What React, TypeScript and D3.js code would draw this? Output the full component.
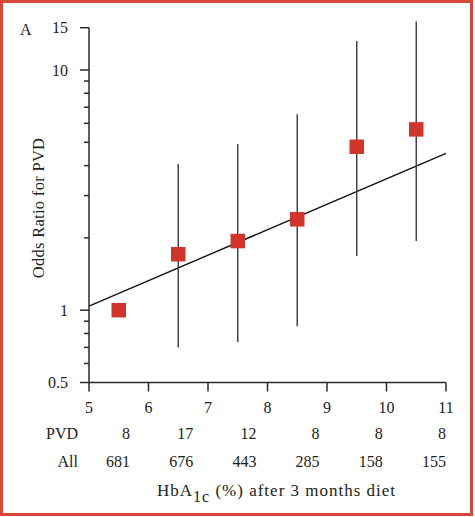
import React from "react";
import * as d3 from "d3";

const hba1c = [5.5, 6.5, 7.5, 8.5, 9.5, 10.5];
const oddsRatio = [1.0, 1.71, 1.94, 2.39, 4.79, 5.66];
const ciLow = [null, 0.70, 0.738, 0.858, 1.68, 1.94];
const ciHigh = [null, 4.06, 4.92, 6.54, 13.2, 15.9];
const trendX = [5, 11];
const trendY = [1.04, 4.5];
const pvdCounts = ["8", "17", "12", "8", "8", "8"];
const allCounts = ["681", "676", "443", "285", "158", "155"];
const xTicks = [5, 6, 7, 8, 9, 10, 11];
const yMajorTicks = [0.5, 1, 10, 15];
const yMinorTicks = [0.6, 0.7, 0.8, 0.9, 2, 3, 4, 5, 6, 7, 8, 9];

const W = 475;
const H = 517;
const FONT = "'Liberation Serif', 'DejaVu Serif', serif";

export default function App() {
  const x = d3.scaleLinear().domain([5, 11]).range([89, 446]);
  const y = d3.scaleLog().domain([0.5, 15]).range([382.5, 27.7]);
  const col = d3.scaleLinear().domain([0, 5]).range([130, 446]);
  const line = d3
    .line<number>()
    .x((_, i) => x(trendX[i]))
    .y((d) => y(d));
  const red = "#d0352b";
  const axisColor = "#2a2a2a";
  const sq = 14.5;
  return (
    <svg
      width={W}
      height={H}
      style={{ position: "absolute", left: 0, top: 0, background: "#fff" }}
      fontFamily={FONT}
    >
      <rect x={1.5} y={1.5} width={470} height={513} fill="#fff" stroke="#d9473b" strokeWidth={3} />
      <text x={20} y={35} fontSize={16} fill="#222">A</text>

      {/* y axis */}
      <line x1={89} x2={89} y1={y(15)} y2={y(0.5)} stroke={axisColor} strokeWidth={1.5} />
      {yMajorTicks.map((t) => (
        <g key={"ym" + t}>
          <line x1={80} x2={89} y1={y(t)} y2={y(t)} stroke={axisColor} strokeWidth={1.5} />
          <text x={68} y={y(t)} dy="0.35em" textAnchor="end" fontSize={16} fill="#222">
            {t}
          </text>
        </g>
      ))}
      {yMinorTicks.map((t) => (
        <line key={"yn" + t} x1={84} x2={89} y1={y(t)} y2={y(t)} stroke={axisColor} strokeWidth={1.5} />
      ))}
      <text
        transform={`translate(44,208) rotate(-90)`}
        textAnchor="middle"
        fontSize={16.5}
        letterSpacing={0.3}
        fill="#222"
      >
        Odds Ratio for PVD
      </text>

      {/* x axis */}
      <line x1={x(5)} x2={x(11)} y1={y(0.5)} y2={y(0.5)} stroke={axisColor} strokeWidth={1.5} />
      {xTicks.map((t) => (
        <g key={"xt" + t}>
          <line x1={x(t)} x2={x(t)} y1={y(0.5)} y2={y(0.5) + 9} stroke={axisColor} strokeWidth={1.5} />
          <text x={x(t)} y={413} textAnchor="middle" fontSize={16} fill="#222">
            {t}
          </text>
        </g>
      ))}

      {/* trend line */}
      <path d={line(trendY) || ""} fill="none" stroke="#111" strokeWidth={1.4} />

      {/* error bars */}
      {hba1c.map((h, i) =>
        ciLow[i] != null ? (
          <line
            key={"eb" + i}
            x1={x(h)}
            x2={x(h)}
            y1={y(ciLow[i] as number)}
            y2={y(ciHigh[i] as number)}
            stroke="#444"
            strokeWidth={1.5}
          />
        ) : null
      )}

      {/* points */}
      {hba1c.map((h, i) => (
        <rect
          key={"pt" + i}
          x={x(h) - sq / 2}
          y={y(oddsRatio[i]) - sq / 2}
          width={sq}
          height={sq}
          fill={red}
        />
      ))}

      {/* table */}
      <text x={78} y={439} textAnchor="end" fontSize={16} fill="#222">PVD</text>
      <text x={78} y={467} textAnchor="end" fontSize={16} fill="#222">All</text>
      {pvdCounts.map((v, i) => (
        <text key={"pv" + i} x={col(i)} y={439} textAnchor="end" fontSize={16} fill="#222">
          {v}
        </text>
      ))}
      {allCounts.map((v, i) => (
        <text key={"al" + i} x={col(i)} y={467} textAnchor="end" fontSize={16} fill="#222">
          {v}
        </text>
      ))}

      <text x={157} y={496} fontSize={17} letterSpacing={1} fill="#222">
        HbA
        <tspan dy={6} fontSize={16}>1c</tspan>
        <tspan dy={-6}> (%) after 3 months diet</tspan>
      </text>
    </svg>
  );
}
